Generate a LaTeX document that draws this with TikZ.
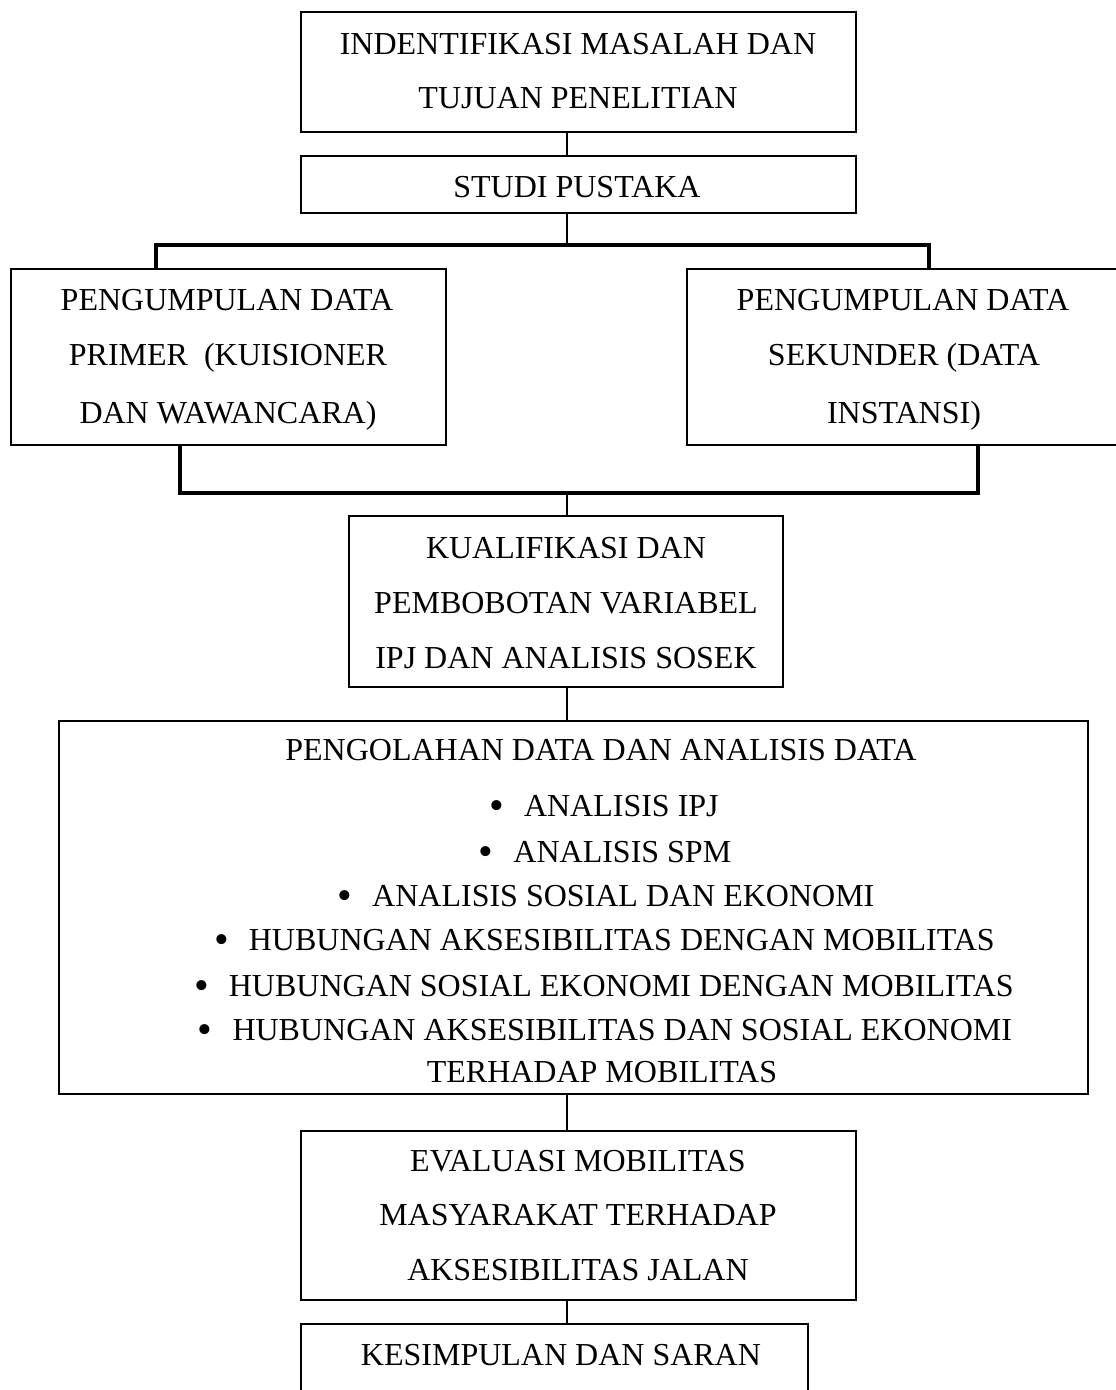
\documentclass[tikz,border=0pt]{standalone}
\usepackage{fontspec}
\setmainfont{Liberation Serif}
\newcommand{\bigbul}{\raisebox{-2.5pt}{\fontsize{42}{42}\selectfont •}\hspace{20pt}}
\begin{document}
\begin{tikzpicture}[x=1pt,y=-1pt,
  box/.style={draw, line width=2pt, rectangle, inner sep=0pt, fill=none},
  lbl/.style={inner sep=0pt, text height=21.2pt, text depth=0pt, font=\fontsize{32}{38}\selectfont},
  conn/.style={line width=2.4pt},
  branch/.style={line width=3.6pt, line join=miter}]
\useasboundingbox (0,0) rectangle (1116,1390);
\fill[white] (0,0) rectangle (1116,1390);
\clip (0,0) rectangle (1116,1390);

% boxes
\node[box, minimum width=555pt, minimum height=120pt] (b1) at (578.5,72) {};
\node[box, minimum width=555pt, minimum height=57pt] (b2) at (578.5,184.5) {};
\node[box, minimum width=435pt, minimum height=176pt] (b3) at (228.5,357) {};
\node[box, minimum width=433pt, minimum height=176pt] (b4) at (903.5,357) {};
\node[box, minimum width=434pt, minimum height=171pt] (b5) at (566,601.5) {};
\node[box, minimum width=1029pt, minimum height=373pt] (b6) at (573.5,907.5) {};
\node[box, minimum width=555pt, minimum height=169pt] (b7) at (578.5,1215.5) {};
\node[box, minimum width=507pt, minimum height=106pt] (b8) at (554.5,1377) {};

% texts
\node[lbl] (t1a) at (578,43.5) {INDENTIFIKASI MASALAH DAN};
\node[lbl] (t1b) at (578,98) {TUJUAN PENELITIAN};
\node[lbl] (t2) at (577,187) {STUDI PUSTAKA};
\node[lbl] (t3a) at (227,300) {PENGUMPULAN DATA};
\node[lbl] (t3b) at (228,355) {PRIMER\ \ (KUISIONER};
\node[lbl] (t3c) at (228,413) {DAN WAWANCARA)};
\node[lbl] (t4a) at (903,300) {PENGUMPULAN DATA};
\node[lbl] (t4b) at (904,355) {SEKUNDER (DATA};
\node[lbl] (t4c) at (904,413) {INSTANSI)};
\node[lbl] (t5a) at (566,548) {KUALIFIKASI DAN};
\node[lbl] (t5b) at (566,603) {PEMBOBOTAN VARIABEL};
\node[lbl] (t5c) at (566,658) {IPJ DAN ANALISIS SOSEK};
\node[lbl] (t6h) at (601,750) {PENGOLAHAN DATA DAN ANALISIS DATA};
\node[lbl] (t6a) at (604,806) {\bigbul ANALISIS IPJ};
\node[lbl] (t6b) at (605,852) {\bigbul ANALISIS SPM};
\node[lbl] (t6c) at (606,896) {\bigbul ANALISIS SOSIAL DAN EKONOMI};
\node[lbl] (t6d) at (604.5,940) {\bigbul HUBUNGAN AKSESIBILITAS DENGAN MOBILITAS};
\node[lbl] (t6e) at (604,986) {\bigbul HUBUNGAN SOSIAL EKONOMI DENGAN MOBILITAS};
\node[lbl] (t6f) at (605,1030) {\bigbul HUBUNGAN AKSESIBILITAS DAN SOSIAL EKONOMI};
\node[lbl] (t6g) at (602,1072) {TERHADAP MOBILITAS};
\node[lbl] (t7a) at (578,1161) {EVALUASI MOBILITAS};
\node[lbl] (t7b) at (578,1215) {MASYARAKAT TERHADAP};
\node[lbl] (t7c) at (578,1270) {AKSESIBILITAS JALAN};
\node[lbl] (t8) at (561,1355) {KESIMPULAN DAN SARAN};

% connector coordinates
\coordinate (ax) at (567,0);
\coordinate (j1) at (567,245);
\coordinate (bl1) at (156,245);
\coordinate (br1) at (929,245);
\coordinate (j2) at (567,493);
\coordinate (bl2) at (180,493);
\coordinate (br2) at (978,493);

% connectors
\draw[conn] (b1.south -| ax) -- (b2.north -| ax);
\draw[conn] (b2.south -| ax) -- (j1);
\draw[branch] (b3.north -| bl1) -- (bl1) -- (br1) -- (b4.north -| br1);
\draw[branch] (b3.south -| bl2) -- (bl2) -- (br2) -- (b4.south -| br2);
\draw[conn] (j2) -- (b5.north -| ax);
\draw[conn] (b5.south -| ax) -- (b6.north -| ax);
\draw[conn] (b6.south -| ax) -- (b7.north -| ax);
\draw[conn] (b7.south -| ax) -- (b8.north -| ax);
\end{tikzpicture}
\end{document}
